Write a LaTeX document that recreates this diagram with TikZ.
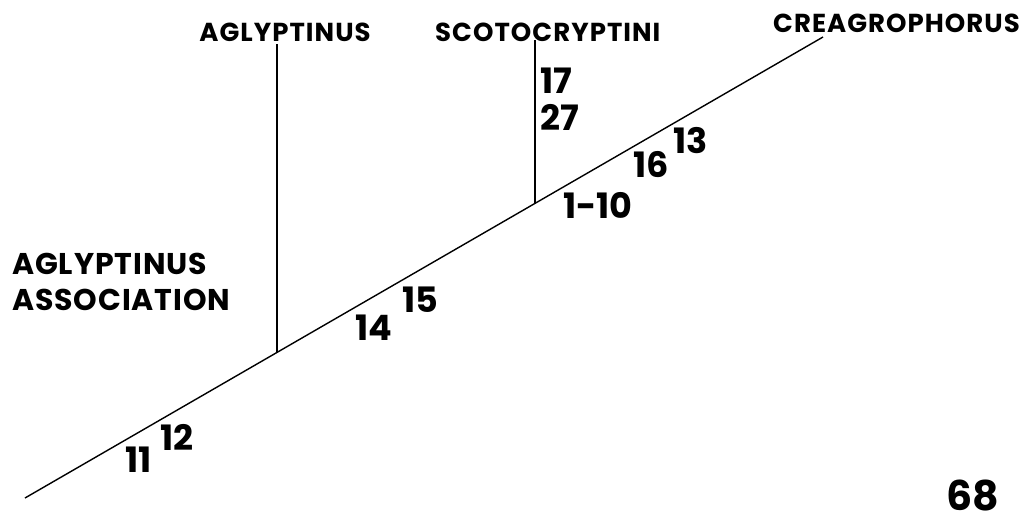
\documentclass[tikz,border=0pt]{standalone}
\usepackage{fontspec}
\setmainfont{Poppins}
\usetikzlibrary{positioning}
\tikzset{taxon/.style = {font = \bfseries\fontsize{26}{26}\selectfont\addfontfeature{LetterSpace=4}, inner sep = 0pt},
         num/.style = {font = \bfseries\fontsize{35}{35}\selectfont, inner sep = 0pt, anchor = base west},
         branch/.style = {line width = 1.4pt},
}

\begin{document}
\begin{tikzpicture}[x = 1pt, y = -1pt]
  \useasboundingbox (0,0) rectangle (1031,519);

  \coordinate (root) at (25,498);
  \coordinate (tip)  at (823,37);
  \coordinate (jagl) at (277,352);
  \coordinate (jsco) at (535,203);
  \coordinate (tagl) at (277,44);
  \coordinate (tsco) at (535,40);

  \node[taxon, anchor = base] at (285,42) (agl) {AGLYPTINUS};
  \node[taxon, anchor = base west] at (435,42) (sco) {SCOTOCRYPTINI};
  \node[taxon, anchor = base east] at (1020,33) (cre) {CREAGROPHORUS};
  \node[taxon, font = \bfseries\fontsize{30}{36}\selectfont\addfontfeature{LetterSpace=3}, align = left, anchor = base west] at (12,310) (assoc) {AGLYPTINUS\\ASSOCIATION};

  \node[num] at (540,93) (n17) {17};
  \node[num] at (540,130) (n27) {27};
  \node[num] at (673,153) (n13) {13};
  \node[num] at (633,177) (n16) {16};
  \node[num] at (563,218) (n1) {1-10};
  \node[num] at (402,312) (n15) {15};
  \node[num] at (355,340) (n14) {14};
  \node[num] at (160,450) (n12) {12};
  \node[num] at (125,472) (n11) {11};
  \node[num, font = \bfseries\fontsize{41}{41}\selectfont] at (946,510) (fig) {68};

  \draw[branch] (root) -- (tip);
  \draw[branch] (jagl) -- (tagl);
  \draw[branch] (jsco) -- (tsco);

\end{tikzpicture}
\end{document}
